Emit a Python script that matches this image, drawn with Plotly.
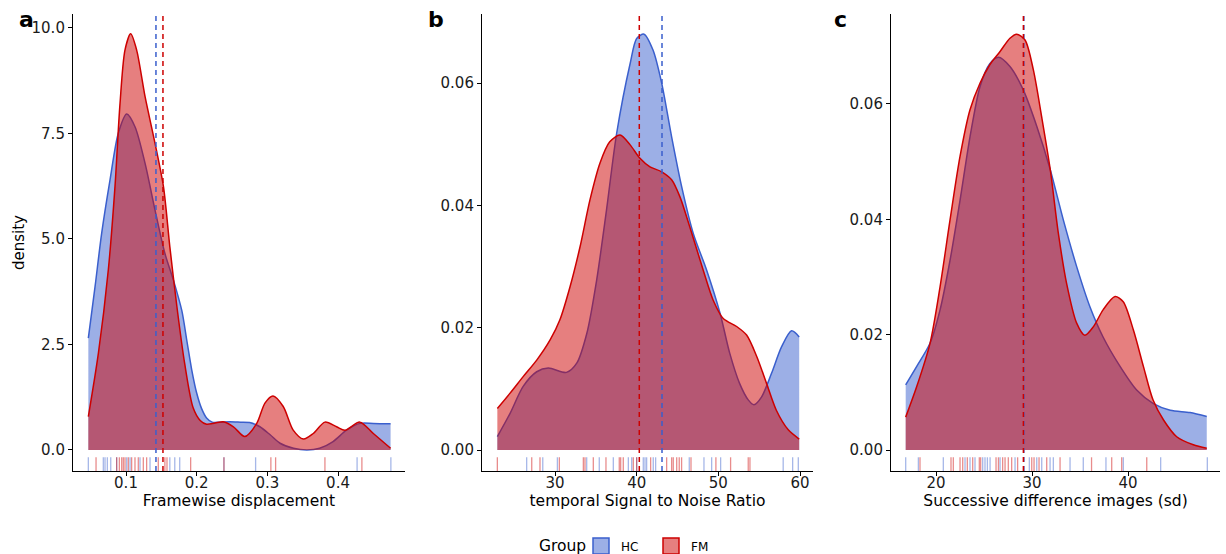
import plotly.graph_objects as go

# ---------------- data ----------------
groups = ["HC", "FM"]
panel_letters = ["a", "b", "c"]
x_titles = ["Framewise displacement", "temporal Signal to Noise Ratio",
            "Successive difference images (sd)"]
y_title = "density"
legend_title = "Group"

# Panel a: Framewise displacement -- density curves
fd_hc_x = [0.0467, 0.0562, 0.0656, 0.0774, 0.089, 0.101, 0.1127, 0.127, 0.141, 0.155,
           0.167, 0.179, 0.186, 0.193, 0.200, 0.207, 0.214, 0.222, 0.233, 0.247, 0.262,
           0.275, 0.2895, 0.304, 0.318, 0.337, 0.356, 0.374, 0.393, 0.412, 0.431, 0.450, 0.4744]
fd_hc_y = [2.65, 3.87, 5.14, 6.40, 7.5, 7.96, 7.66, 6.79, 5.69, 4.66,
           4.03, 3.3, 2.6, 1.9, 1.35, 0.98, 0.76, 0.66, 0.66, 0.67, 0.66,
           0.65, 0.55, 0.36, 0.16, 0.04, 0.0, 0.04, 0.2, 0.47, 0.63, 0.63, 0.62]
fd_fm_x = [0.0467, 0.061, 0.075, 0.0844, 0.0915, 0.0986, 0.1066, 0.115, 0.127, 0.141,
           0.153, 0.162, 0.172, 0.183, 0.195, 0.205, 0.214, 0.226, 0.2377, 0.252, 0.268,
           0.285, 0.2966, 0.308, 0.3225, 0.3366, 0.351, 0.365, 0.3815, 0.398, 0.41, 0.431,
           0.45, 0.4744]
fd_fm_y = [0.79, 2.3, 4.27, 6.24, 8.2, 9.48, 9.86, 9.48, 8.37, 7.27,
           6.24, 4.82, 3.40, 2.05, 1.0, 0.7, 0.61, 0.64, 0.67, 0.55, 0.32,
           0.63, 1.11, 1.28, 1.03, 0.47, 0.26, 0.39, 0.66, 0.55, 0.47, 0.66,
           0.39, 0.04]
fd_hc_rug = [0.0467, 0.0679, 0.0703, 0.0736, 0.0784, 0.0868, 0.101, 0.1057, 0.1198, 0.134,
             0.162, 0.169, 0.176, 0.2386, 0.2834, 0.427, 0.4748]
fd_fm_rug = [0.0576, 0.0868, 0.0906, 0.0939, 0.0962, 0.0986, 0.1033, 0.108, 0.1127, 0.1174,
             0.1245, 0.1292, 0.1457, 0.155, 0.158, 0.1915, 0.2386, 0.305, 0.3117, 0.3815,
             0.4338]
fd_means = [0.1424, 0.1523]

# Panel b: temporal SNR
snr_hc_x = [22.94, 24.5, 26.1, 27.76, 29.18, 31.4, 32.66, 33.9, 35.1, 36.3, 37.55, 39.2,
            40.0, 40.9, 42.0, 43.06, 44.28, 45.5, 46.93, 48.57, 50.2, 51.4, 52.6, 53.66,
            54.36, 55.3, 56.5, 57.75, 58.97, 59.9]
snr_hc_y = [0.0022, 0.0060, 0.0104, 0.0128, 0.0134, 0.0127, 0.0142, 0.0191, 0.0278, 0.0392,
            0.0518, 0.0632, 0.0673, 0.0680, 0.0654, 0.0600, 0.0512, 0.0431, 0.0354, 0.0294,
            0.0224, 0.0158, 0.0109, 0.0082, 0.0074, 0.0087, 0.0125, 0.0169, 0.0195, 0.0185]
snr_fm_x = [22.94, 24.5, 26.1, 27.76, 29.4, 30.6, 31.84, 33.06, 34.28, 35.5, 36.7, 37.96,
            39.2, 40.4, 41.63, 43.06, 44.28, 45.3, 46.5, 48.15, 49.37, 50.6, 52.24, 53.46,
            54.7, 55.9, 57.1, 58.56, 59.9]
snr_fm_y = [0.0068, 0.0093, 0.0120, 0.0147, 0.0180, 0.0213, 0.0267, 0.0332, 0.0409, 0.0469,
            0.0504, 0.0515, 0.0499, 0.0477, 0.0463, 0.0455, 0.0442, 0.0414, 0.0365, 0.0294,
            0.0245, 0.0215, 0.0202, 0.0188, 0.0153, 0.0109, 0.0065, 0.0033, 0.0018]
snr_hc_rug = [26.53, 28.5, 30.29, 33.88, 35.42, 37.14, 38.98, 39.39, 40.0, 40.81, 41.02,
              41.22, 42.03, 42.32, 46.44, 48.24, 49.18, 50.28, 57.94, 59.1, 59.79]
snr_fm_rug = [22.94, 27.15, 28.16, 30.53, 33.47, 33.67, 34.69, 36.24, 37.87, 38.04, 38.36,
              39.59, 40.0, 41.71, 43.67, 44.28, 44.48, 44.9, 45.21, 45.5, 46.65, 49.7,
              51.5, 53.66, 53.87]
snr_means = [43.1, 40.32]

# Panel c: successive difference images (sd)
sd_hc_x = [16.84, 17.99, 19.375, 20.42, 21.46, 22.5, 23.54, 24.58, 25.6, 26.5, 27.7, 29.1,
           30.5, 31.9, 33.26, 34.65, 36.04, 37.4, 39.17, 40.9, 42.6, 44.4, 46.46, 48.2]
sd_hc_y = [0.0113, 0.0145, 0.0185, 0.0243, 0.0329, 0.0433, 0.0543, 0.0630, 0.0670, 0.0681,
           0.0665, 0.0624, 0.0561, 0.0486, 0.0399, 0.0318, 0.0248, 0.0196, 0.0145, 0.0104,
           0.0081, 0.0069, 0.0065, 0.0058]
sd_fm_x = [16.84, 17.99, 19.375, 20.42, 21.46, 22.5, 23.54, 24.58, 25.6, 26.67, 27.7, 28.4,
           29.27, 30.14, 31.0, 31.9, 32.74, 33.6, 34.65, 35.5, 36.4, 37.4, 38.65, 39.5,
           40.56, 41.6, 42.6, 43.7, 45.07, 46.8, 48.2]
sd_fm_y = [0.0057, 0.0110, 0.0185, 0.0283, 0.0399, 0.0509, 0.0590, 0.0636, 0.0668, 0.0691,
           0.0714, 0.0721, 0.0711, 0.0659, 0.0578, 0.0486, 0.0376, 0.0289, 0.0220, 0.0199,
           0.0214, 0.0243, 0.0266, 0.0257, 0.0208, 0.0145, 0.0087, 0.0052, 0.0023, 0.0009,
           0.0003]
sd_hc_rug = [16.84, 18.16, 20.76, 23.02, 23.54, 24.06, 24.86, 25.1, 25.35, 25.63, 26.67,
             28.23, 29.72, 30.49, 31.01, 31.88, 32.22, 33.96, 35.34, 37.7, 39.51, 43.4, 48.26]
sd_fm_rug = [18.33, 21.56, 21.8, 22.5, 22.78, 23.26, 23.82, 24.51, 24.65, 26.25, 26.5,
             26.94, 27.19, 27.53, 27.88, 28.5, 29.97, 30.21, 30.73, 31.53, 32.92, 36.2,
             38.3, 39.34, 41.95]
sd_means = [29.15, 29.1]

# tick values
fd_xticks = [0.1, 0.2, 0.3, 0.4]
fd_yticks = [0.0, 2.5, 5.0, 7.5, 10.0]
snr_xticks = [30, 40, 50, 60]
snr_yticks = [0.00, 0.02, 0.04, 0.06]
sd_xticks = [20, 30, 40]
sd_yticks = [0.00, 0.02, 0.04, 0.06]

# ---------------- style ----------------
FONT = "DejaVu Sans"
LINE = {"HC": "#3A5FCD", "FM": "#CD0000"}
FILL = {"HC": "rgba(58,95,205,0.5)", "FM": "rgba(205,0,0,0.5)"}
RUG = {"HC": "rgba(58,95,205,0.45)", "FM": "rgba(205,0,0,0.45)"}

W, H = 1226, 554
panels = [
    dict(curves={"HC": (fd_hc_x, fd_hc_y), "FM": (fd_fm_x, fd_fm_y)},
         rugs={"HC": fd_hc_rug, "FM": fd_fm_rug}, means=fd_means,
         xr=[0.025, 0.4948], yr=[-0.498, 10.33], xt=fd_xticks, yt=fd_yticks,
         yfmt=".1f", px=(73, 405)),
    dict(curves={"HC": (snr_hc_x, snr_hc_y), "FM": (snr_fm_x, snr_fm_y)},
         rugs={"HC": snr_hc_rug, "FM": snr_fm_rug}, means=snr_means,
         xr=[21.06, 61.59], yr=[-0.00343, 0.0713], xt=snr_xticks, yt=snr_yticks,
         yfmt=".2f", px=(482, 813)),
    dict(curves={"HC": (sd_hc_x, sd_hc_y), "FM": (sd_fm_x, sd_fm_y)},
         rugs={"HC": sd_hc_rug, "FM": sd_fm_rug}, means=sd_means,
         xr=[15.31, 49.58], yr=[-0.00364, 0.0756], xt=sd_xticks, yt=sd_yticks,
         yfmt=".2f", px=(891, 1220)),
]
PLOT_TOP, PLOT_BOTTOM = 14, 471
ydom = [1 - PLOT_BOTTOM / H, 1 - PLOT_TOP / H]

fig = go.Figure()
layout = {}
for i, p in enumerate(panels):
    n = "" if i == 0 else str(i + 1)
    xa, ya = "x" + n, "y" + n
    for g in groups:
        xs, ys = p["curves"][g]
        fig.add_trace(go.Scatter(
            x=xs, y=ys, xaxis=xa, yaxis=ya, mode="lines", name=g,
            line=dict(color=LINE[g], width=1.5, shape="spline", smoothing=0.8),
            fill="tozeroy", fillcolor=FILL[g], showlegend=False, hoverinfo="skip"))
    y0 = p["yr"][0]
    y1 = y0 + 0.03 * (p["yr"][1] - p["yr"][0])
    for g in groups:
        rx, ry = [], []
        for v in p["rugs"][g]:
            rx += [v, v, None]
            ry += [y0, y1, None]
        fig.add_trace(go.Scatter(x=rx, y=ry, xaxis=xa, yaxis=ya, mode="lines",
                                 line=dict(color=RUG[g], width=1.3),
                                 showlegend=False, hoverinfo="skip"))
    for g, m in zip(groups, p["means"]):
        fig.add_shape(type="line", xref=xa, yref=ya + " domain", x0=m, x1=m, y0=0, y1=1,
                      line=dict(color=LINE[g], width=1.5, dash="5px,4px"), layer="above")
    xdom = [p["px"][0] / W, p["px"][1] / W]
    layout["xaxis" + n] = dict(
        domain=xdom, range=p["xr"], tickvals=p["xt"], showline=True, linecolor="black",
        linewidth=1.1, ticks="outside", ticklen=4, tickcolor="black", showgrid=False,
        zeroline=False, anchor=ya, automargin=False, ticklabelstandoff=-6,
        tickfont=dict(family=FONT, size=15, color="#1a1a1a"),
        title=dict(text=x_titles[i], font=dict(family=FONT, size=15.5, color="black"),
                   standoff=2))
    layout["yaxis" + n] = dict(
        domain=ydom, range=p["yr"], tickvals=p["yt"], tickformat=p["yfmt"],
        showline=True, linecolor="black", linewidth=1.1, ticks="outside", ticklen=4,
        tickcolor="black", showgrid=False, zeroline=False, anchor=xa, automargin=False,
        tickfont=dict(family=FONT, size=15, color="#1a1a1a"),
        title=dict(text=y_title if i == 0 else "",
                   font=dict(family=FONT, size=15, color="black"), standoff=3))

# legend keys (square filled boxes)
for g in groups:
    fig.add_trace(go.Scatter(
        x=[None], y=[None], mode="markers", name=g, showlegend=True,
        marker=dict(symbol="square", size=19, color=FILL[g],
                    line=dict(color=LINE[g], width=1.5))))

letter_x = [17, 426, 832]
annotations = [dict(text="<b>%s</b>" % l, x=lx / W, y=1 - 19 / H, xref="paper",
                    yref="paper", xanchor="left", yanchor="middle", showarrow=False,
                    font=dict(family=FONT, size=22, color="black"))
               for l, lx in zip(panel_letters, letter_x)]
annotations.append(dict(text=legend_title, x=588 / W, y=1 - 546 / H, xref="paper",
                        yref="paper", xanchor="right", yanchor="middle", showarrow=False,
                        font=dict(family=FONT, size=15.5, color="black")))

fig.update_layout(
    **layout,
    width=W, height=H,
    margin=dict(l=0, r=0, t=0, b=0, autoexpand=False),
    paper_bgcolor="white", plot_bgcolor="white",
    annotations=annotations,
    legend=dict(orientation="h", x=581 / W, xanchor="left", y=8 / H, yanchor="middle",
                font=dict(family=FONT, size=12, color="black"),
                itemwidth=30, itemsizing="trace", entrywidth=25, entrywidthmode="pixels",
                bgcolor="rgba(0,0,0,0)"),
    showlegend=True,
)
fig.write_html("out.html", config={"displayModeBar": False},
               post_script="document.body.style.margin='0';document.body.style.overflow='hidden';")
